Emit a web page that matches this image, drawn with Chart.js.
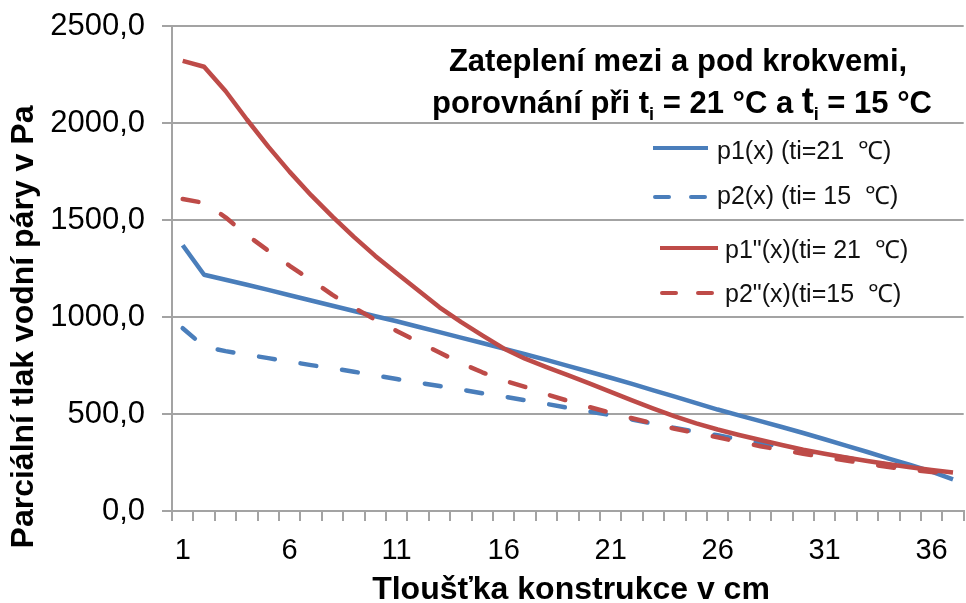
<!DOCTYPE html>
<html>
<head>
<meta charset="utf-8">
<title>Parcialni tlak vodni pary</title>
<script src="https://cdn.jsdelivr.net/npm/chart.js@4/dist/chart.umd.min.js"></script>
<style>
  html, body { margin: 0; padding: 0; background: #fff; }
  #container { width: 966px; height: 603px; }
</style>
</head>
<body>
<div id="container"><canvas id="canvas" width="966" height="603"></canvas></div>
<script>
// x categories (tloustka v cm)
var categories = [1,2,3,4,5,6,7,8,9,10,11,12,13,14,15,16,17,18,19,20,21,22,23,24,25,26,27,28,29,30,31,32,33,34,35,36,37];

// series
var p1 = [1370,1218,1192,1166,1140,1112,1085,1058,1031,1004,978,950,922,894,866,837,808,779,748,718,687,655,622,590,556,523,493,463,433,402,370,337,304,270,237,203,163];
var p2 = [942,848,824,806,788,770,752,736,718,699,680,662,644,626,607,590,571,552,532,513,494,472,450,428,408,390,370,350,330,311,292,274,256,239,222,205,188];
var p1dd = [2320,2290,2165,2018,1878,1748,1628,1517,1413,1315,1225,1138,1050,975,905,838,785,742,700,658,614,570,528,488,452,420,392,366,340,316,295,276,258,241,225,211,199];
var p2dd = [1608,1588,1514,1422,1342,1264,1190,1114,1048,986,928,872,817,762,715,673,640,602,568,536,506,478,451,424,401,380,356,334,314,295,277,260,243,227,212,201,192];

var seriesNames = ['p1(x) (ti=21  \u2103)', 'p2(x) (ti= 15  \u2103)', 'p1"(x)(ti= 21  \u2103)', 'p2"(x)(ti=15  \u2103)'];
var yTicks = [0, 500, 1000, 1500, 2000, 2500];

var BLUE = '#4a7ebb';
var RED = '#be4b48';
var GRID = '#a3a3a3';
var FONT = "'Liberation Sans', Arial, sans-serif";

// title, legend and axis titles drawn on top
var overlay = {
  id: 'overlay',
  afterDraw: function(chart) {
    var ctx = chart.ctx;
    ctx.save();
    ctx.fillStyle = '#000';

    // title line 1
    ctx.font = 'bold 31px ' + FONT;
    ctx.textAlign = 'center';
    ctx.textBaseline = 'alphabetic';
    ctx.fillText('Zateplení mezi a pod krokvemi,', 678, 71);

    // title line 2 with subscripts
    var parts = [
      ['porovnání při t', 'bold 31px ', 0],
      ['i', 'bold 18px ', 7],
      [' = 21 °C a ', 'bold 31px ', 0],
      ['t', 'bold 36px ', 0],
      ['i', 'bold 18px ', 7],
      [' = 15 °C', 'bold 31px ', 0]
    ];
    var total = 0;
    parts.forEach(function(p) { ctx.font = p[1] + FONT; total += ctx.measureText(p[0]).width; });
    var x = 682 - total / 2;
    ctx.textAlign = 'left';
    parts.forEach(function(p) {
      ctx.font = p[1] + FONT;
      ctx.fillText(p[0], x, 113 + p[2]);
      x += ctx.measureText(p[0]).width;
    });

    // legend inside the plot
    var leg = [
      {x0: 653, x1: 708, y: 148, ty: 152, tx: 717, color: BLUE, dash: []},
      {x0: 653, x1: 708, y: 197, ty: 197, tx: 717, color: BLUE, dash: [14, 22]},
      {x0: 660, x1: 718, y: 248, ty: 251, tx: 725, color: RED, dash: []},
      {x0: 660, x1: 718, y: 293, ty: 295, tx: 725, color: RED, dash: [14, 22]}
    ];
    leg.forEach(function(l, i) {
      ctx.beginPath();
      ctx.setLineDash(l.dash);
      ctx.lineCap = l.dash.length ? 'round' : 'butt';
      ctx.strokeStyle = l.color;
      ctx.lineWidth = 4;
      ctx.moveTo(l.dash.length ? l.x0 + 2 : l.x0, l.y);
      ctx.lineTo(l.x1, l.y);
      ctx.stroke();
      ctx.setLineDash([]);
      ctx.font = '25px ' + FONT;
      ctx.textAlign = 'left';
      ctx.textBaseline = 'middle';
      ctx.fillStyle = '#111';
      ctx.fillText(seriesNames[i], l.tx, l.ty);
    });

    // axis titles
    ctx.fillStyle = '#000';
    ctx.font = 'bold 32px ' + FONT;
    ctx.textAlign = 'center';
    ctx.textBaseline = 'middle';
    ctx.fillText('Tloušťka konstrukce v cm', 571, 590);

    ctx.translate(24, 327);
    ctx.rotate(-Math.PI / 2);
    ctx.fillText('Parciální tlak vodní páry v Pa', 0, 0);
    ctx.restore();
  }
};

function line(label, data, color, dashed, order) {
  return {
    label: label,
    data: data,
    borderColor: color,
    backgroundColor: color,
    borderWidth: 4.5,
    borderDash: dashed ? [16, 26] : [],
    borderCapStyle: dashed ? 'round' : 'butt',
    borderJoinStyle: 'round',
    pointRadius: 0,
    tension: 0,
    fill: false,
    order: order
  };
}

var ctx = document.getElementById('canvas').getContext('2d');
new Chart(ctx, {
  type: 'line',
  data: {
    labels: categories,
    datasets: [
      line(seriesNames[0], p1, BLUE, false, 4),
      line(seriesNames[1], p2, BLUE, true, 3),
      line(seriesNames[2], p1dd, RED, false, 2),
      line(seriesNames[3], p2dd, RED, true, 1)
    ]
  },
  options: {
    responsive: false,
    animation: false,
    devicePixelRatio: 1,
    layout: { padding: 0 },
    plugins: {
      legend: { display: false },
      title: { display: false },
      tooltip: { enabled: false }
    },
    scales: {
      x: {
        type: 'category',
        offset: true,
        afterFit: function(s) { s.height = 92; },
        grid: {
          display: true,
          drawOnChartArea: false,
          drawTicks: true,
          tickLength: 10,
          offset: true,
          color: GRID,
          lineWidth: 2
        },
        border: { display: true, color: GRID, width: 2 },
        ticks: {
          autoSkip: false,
          maxRotation: 0,
          minRotation: 0,
          padding: 13,
          color: '#000',
          font: { family: FONT, size: 29 },
          callback: function(val, idx) { return idx % 5 === 0 ? String(categories[idx]) : ''; }
        }
      },
      y: {
        min: 0,
        max: 2500,
        afterFit: function(s) { s.width = 172; s.paddingTop = 26; s.paddingBottom = 0; },
        afterBuildTicks: function(s) { s.ticks = yTicks.map(function(v) { return {value: v}; }); },
        grid: {
          color: GRID,
          lineWidth: 2,
          drawTicks: true,
          tickLength: 10
        },
        border: { display: true, color: GRID, width: 2 },
        ticks: {
          padding: 17,
          color: '#000',
          font: { family: FONT, size: 31 },
          callback: function(v) { return v.toFixed(1).replace('.', ','); }
        }
      }
    }
  },
  plugins: [overlay]
});
</script>
</body>
</html>
